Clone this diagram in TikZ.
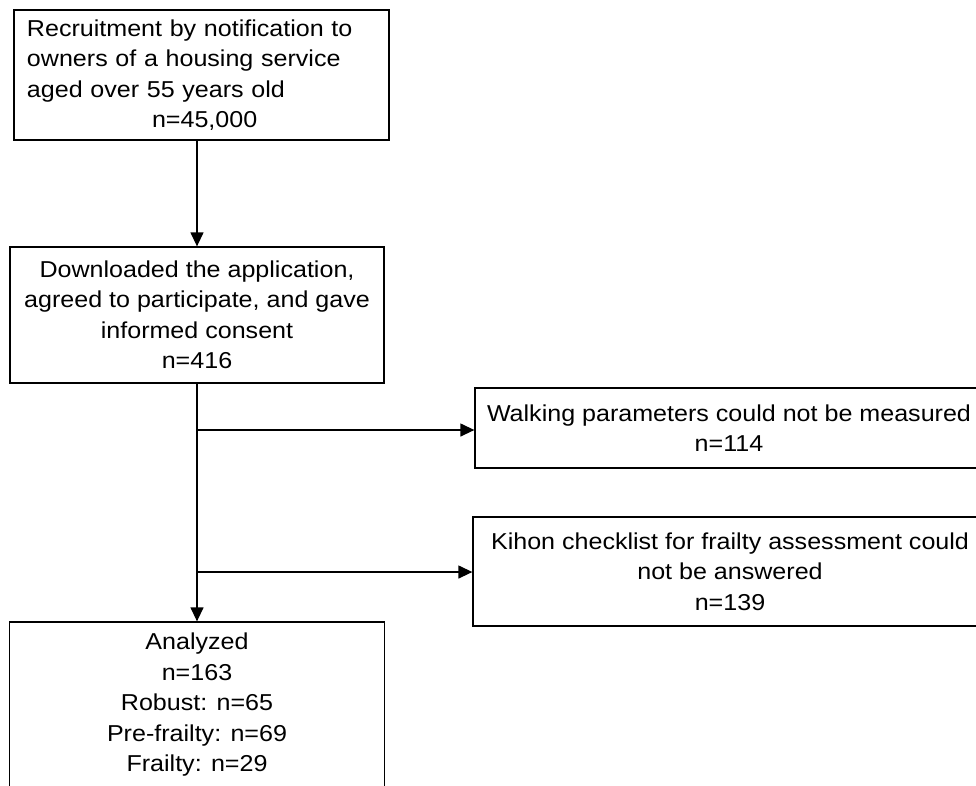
\documentclass[tikz,border=0pt]{standalone}
\usepackage{fontspec}
\setmainfont[FakeStretch=1.09]{Liberation Sans}
\usetikzlibrary{arrows.meta}
\begin{document}
\begin{tikzpicture}[x=1pt,y=-1pt,
  box/.style={draw, line width=1.3pt, rectangle, inner sep=0pt, align=center,
    font=\fontsize{23pt}{30.5pt}\selectfont},
  txt/.style={inner sep=0pt, align=center, font=\fontsize{23pt}{30.5pt}\selectfont},
  arr/.style={line width=1.3pt, -{Triangle[length=14pt,width=13pt]}}]
\useasboundingbox (0,0) rectangle (976,785);
\clip (0,0) rectangle (976,785);

\node[box, minimum width=375pt, minimum height=130pt, text width=349pt, inner xsep=13pt, align=left] (b1) at (201.5,75)
  {Recruitment by notification to\\owners of a housing service\\aged over 55 years old\\\hspace*{125pt}n=45,000};
\node[box, minimum width=374pt, minimum height=136pt] (b2) at (197,315)
  {Downloaded the application,\\agreed to participate, and gave\\informed consent\\n=416};
\node[box, minimum width=508pt, minimum height=80pt] (b4) at (729,428)
  {Walking parameters could not be measured\\n=114};
\node[box, minimum width=514pt, minimum height=109pt] (b5) at (730,571.5)
  {Kihon checklist for frailty assessment could\\not be answered\\n=139};
\node[box, minimum width=375pt, minimum height=178pt] (b6) at (197,711) {};
\node[txt] (t6) at (197,705)
  {Analyzed\\n=163\\Robust: n=65\\Pre-frailty: n=69\\Frailty: n=29};

\coordinate (j1) at (197,430);
\coordinate (j2) at (197,572);

\draw[arr] (b1.south -| b2.north) -- (b2.north);
\draw[arr] (b2.south) -- (b6.north);
\draw[arr] (j1) -- (j1 -| b4.west);
\draw[arr] (j2) -- (j2 -| b5.west);
\end{tikzpicture}
\end{document}
